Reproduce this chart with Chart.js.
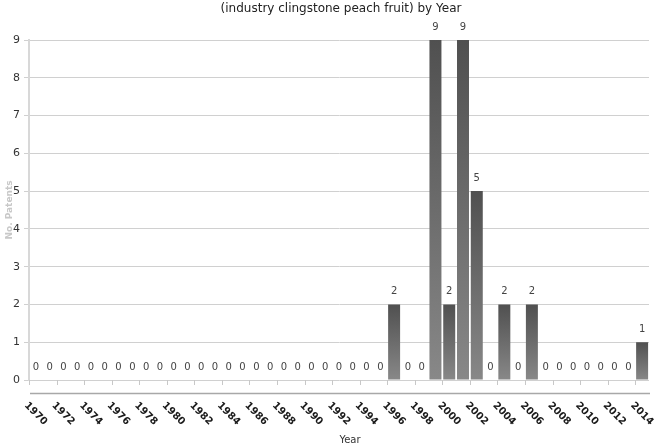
<!DOCTYPE html>
<html>
<head>
<meta charset="utf-8">
<script src="https://cdn.jsdelivr.net/npm/chart.js@4/dist/chart.umd.min.js"></script>
<style>
html,body{margin:0;padding:0;background:#fff;}
#wrap{width:658px;height:448px;position:relative;}
</style>
</head>
<body>
<div id="wrap"><canvas id="c" width="658" height="448"></canvas></div>
<script>
const titleText = "(industry clingstone peach fruit) by Year";
const yTitle = "No. Patents";
const xTitle = "Year";
const years = [];
for (let y = 1970; y <= 2014; y++) years.push(String(y));
const patents = [0,0,0,0,0,0,0,0,0,0, 0,0,0,0,0,0,0,0,0,0, 0,0,0,0,0,0,2,0,0,9, 2,9,5,0,2,0,2,0,0,0, 0,0,0,0,1];
const yTicks = [0,1,2,3,4,5,6,7,8,9];

const DFONT = "'DejaVu Sans', sans-serif";

const decor = {
  id: 'decor',
  afterDraw(chart) {
    const ctx = chart.ctx;
    const xs = chart.scales.x, ys = chart.scales.y;
    const ca = chart.chartArea;
    const n = years.length;
    const step = (ca.right - ca.left) / n;
    ctx.save();
    // title
    ctx.fillStyle = '#222';
    ctx.font = "12px " + DFONT;
    ctx.textAlign = 'center';
    ctx.textBaseline = 'middle';
    ctx.fillText(titleText, 341, 9);
    // y title
    ctx.save();
    ctx.translate(10, (ca.top + ca.bottom) / 2);
    ctx.rotate(-Math.PI / 2);
    ctx.fillStyle = '#c8c8c8';
    ctx.font = "bold 9px " + DFONT;
    ctx.fillText(yTitle, 0, 0);
    ctx.restore();
    // x tick marks at boundaries every 2 categories
    ctx.strokeStyle = '#c8c8c8';
    ctx.lineWidth = 1;
    const base = ys.getPixelForValue(0);
    for (let i = 0; i <= n; i += 2) {
      const x = Math.round(ca.left + step * i) + 0.5;
      ctx.beginPath(); ctx.moveTo(x, base); ctx.lineTo(x, base + 5); ctx.stroke();
    }
    // secondary axis line
    ctx.strokeStyle = '#a8a8a8';
    ctx.lineWidth = 1.5;
    ctx.beginPath(); ctx.moveTo(ca.left + 1, 393.5); ctx.lineTo(ca.right + 1, 393.5); ctx.stroke();
    // x labels (every second year), rotated clockwise
    ctx.fillStyle = '#1a1a1a';
    ctx.font = "bold 10px " + DFONT;
    ctx.textAlign = 'left';
    ctx.textBaseline = 'middle';
    for (let i = 0; i < n; i += 2) {
      const cx = xs.getPixelForValue(i);
      ctx.save();
      ctx.translate(cx - 10, 404);
      ctx.rotate(Math.PI / 4);
      ctx.fillText(years[i], 0, 0);
      ctx.restore();
    }
    // x title
    ctx.fillStyle = '#333';
    ctx.font = "10px " + DFONT;
    ctx.textAlign = 'center';
    ctx.fillText(xTitle, 350, 440);
    // value labels
    ctx.fillStyle = '#444';
    ctx.font = "10px " + DFONT;
    ctx.textAlign = 'center';
    ctx.textBaseline = 'middle';
    patents.forEach((v, i) => {
      const x = xs.getPixelForValue(i);
      const y = ys.getPixelForValue(v) - 13;
      ctx.fillText(String(v), x, y);
    });
    ctx.restore();
  }
};

new Chart(document.getElementById('c'), {
  type: 'bar',
  data: {
    labels: years,
    datasets: [{
      data: patents,
      barPercentage: 0.87,
      categoryPercentage: 1.0,
      backgroundColor: function(c) {
        const chart = c.chart;
        const ys = chart.scales.y;
        if (!chart.chartArea || !ys) return '#666';
        const v = c.raw || 0;
        const top = ys.getPixelForValue(v);
        const bot = ys.getPixelForValue(0);
        if (bot - top < 1) return '#666';
        const g = chart.ctx.createLinearGradient(0, top, 0, bot);
        g.addColorStop(0, '#505050');
        g.addColorStop(1, '#888888');
        return g;
      },
      borderWidth: 0
    }]
  },
  options: {
    responsive: false,
    animation: false,
    events: [],
    layout: { padding: { left: 0, right: 9, top: 40, bottom: 0 } },
    plugins: { legend: { display: false }, title: { display: false }, tooltip: { enabled: false } },
    scales: {
      x: {
        grid: { display: false },
        border: { display: false },
        ticks: { display: false },
        afterFit(s) { s.height = 68; }
      },
      y: {
        min: 0, max: 9,
        afterFit(s) { s.width = 29; },
        afterBuildTicks(s) { s.ticks = yTicks.map(v => ({ value: v })); },
        grid: { color: '#d0d0d0', tickColor: '#d0d0d0', tickLength: 5, lineWidth: 1 },
        border: { display: true, color: '#d8d8d8', width: 2 },
        ticks: { color: '#333', font: { size: 11, family: DFONT }, padding: 4 }
      }
    }
  },
  plugins: [decor]
});
</script>
</body>
</html>
